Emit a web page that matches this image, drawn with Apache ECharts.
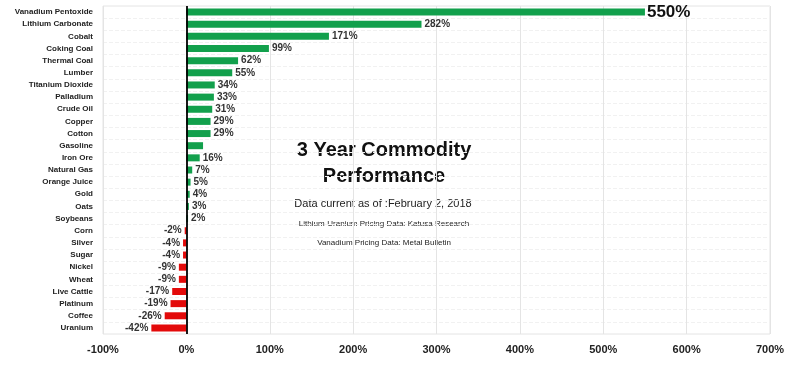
<!DOCTYPE html>
<html><head><meta charset="utf-8">
<script src="https://cdn.jsdelivr.net/npm/echarts@6/dist/echarts.min.js"></script>
<style>html,body{margin:0;padding:0;background:#fff}#c{width:800px;height:367px}</style>
</head><body><div id="c"></div>
<script>
var categories = ["Vanadium Pentoxide","Lithium Carbonate","Cobalt","Coking Coal","Thermal Coal","Lumber","Titanium Dioxide","Palladium","Crude Oil","Copper","Cotton","Gasoline","Iron Ore","Natural Gas","Orange Juice","Gold","Oats","Soybeans","Corn","Silver","Sugar","Nickel","Wheat","Live Cattle","Platinum","Coffee","Uranium"];
var values = [550,282,171,99,62,55,34,33,31,29,29,20,16,7,5,4,3,2,-2,-4,-4,-9,-9,-17,-19,-26,-42];
var valueLabels = ["550%","282%","171%","99%","62%","55%","34%","33%","31%","29%","29%","","16%","7%","5%","4%","3%","2%","-2%","-4%","-4%","-9%","-9%","-17%","-19%","-26%","-42%"];
var xTicks = {min:-100, max:700, interval:100};

var data = values.map(function(v,i){
  var item = {value:v, itemStyle:{color: v>=0 ? '#12a04c' : '#e30a0a'},
    label:{show: valueLabels[i] !== '', position: v>=0 ? 'right':'left', formatter: valueLabels[i]}};
  if (i === 0) { item.label.fontSize = 17; item.label.fontFamily = 'Liberation Sans, Arial'; item.label.color = '#111'; item.label.distance = 2; }
  return item;
});

var chart = echarts.init(document.getElementById('c'), null, {renderer:'canvas'});
chart.setOption({
  animation:false,
  backgroundColor:'#fff',
  grid:{left:103, right:30, top:6, bottom:33, show:true, borderColor:'#e4e4e4', borderWidth:1},
  xAxis:{type:'value', min:xTicks.min, max:xTicks.max, interval:xTicks.interval,
    axisLine:{show:false}, axisTick:{show:false},
    splitLine:{show:true, lineStyle:{color:'#e4e4e4', width:1}},
    axisLabel:{formatter:'{value}%', color:'#222', fontWeight:'bold', fontSize:11, fontFamily:'Liberation Sans, Arial', margin:10}},
  yAxis:{type:'category', data:categories, inverse:true,
    axisLine:{show:false}, axisTick:{show:false},
    splitLine:{show:true, lineStyle:{color:'#f1f1f1', type:'dashed', width:1}},
    axisLabel:{color:'#222', fontWeight:'bold', fontSize:8, fontFamily:'Liberation Sans, Arial', margin:10, interval:0}},
  series:[{type:'bar', data:data, barWidth:7,
    label:{color:'#333', fontWeight:'bold', fontSize:10, fontFamily:'Liberation Sans, Arial', distance:3},
    markLine:{silent:true, symbol:'none', label:{show:false}, lineStyle:{color:'#000', type:'solid', width:1.8},
      data:[{xAxis:0}]}
  }],
  graphic:[
    {type:'text', x:384, y:150, style:{text:'3 Year Commodity', fill:'#111', font:'bold 20px "Liberation Sans", Arial', textAlign:'center', textVerticalAlign:'middle'}},
    {type:'text', x:384, y:176, style:{text:'Performance', fill:'#111', font:'bold 20px "Liberation Sans", Arial', textAlign:'center', textVerticalAlign:'middle'}},
    {type:'text', x:383, y:204, style:{text:'Data current as of :February 2, 2018', fill:'#222', font:'11px "Liberation Sans", Arial', textAlign:'center', textVerticalAlign:'middle'}},
    {type:'text', x:384, y:224, style:{text:'Lithium-Uranium Pricing Data: Katusa Research', fill:'#222', font:'8px "Liberation Sans", Arial', textAlign:'center', textVerticalAlign:'middle'}},
    {type:'text', x:384, y:243, style:{text:'Vanadium Pricing Data: Metal Bulletin', fill:'#222', font:'8px "Liberation Sans", Arial', textAlign:'center', textVerticalAlign:'middle'}}
  ]
});
</script></body></html>
